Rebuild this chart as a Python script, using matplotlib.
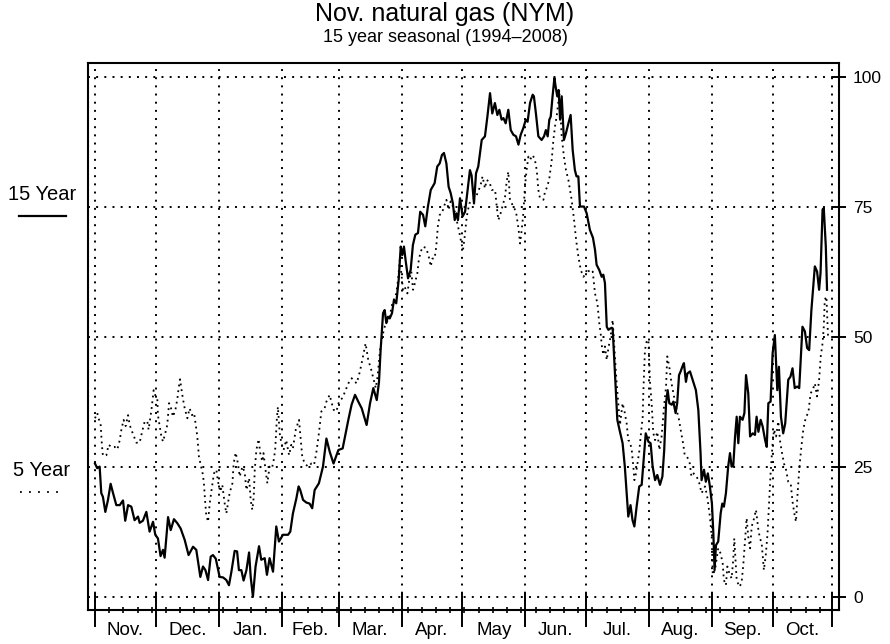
import matplotlib
matplotlib.use("Agg")
import matplotlib.pyplot as plt
from matplotlib.lines import Line2D
import matplotlib.transforms as mtransforms

plt.rcParams['font.family'] = ['Liberation Sans', 'DejaVu Sans']

# month boundaries in calendar days from Nov. 1
month_edges = [0, 30, 61, 92, 120, 151, 181, 212, 242, 273, 304, 334, 363]
month_labels = ['Nov.', 'Dec.', 'Jan.', 'Feb.', 'Mar.', 'Apr.', 'May',
                'Jun.', 'Jul.', 'Aug.', 'Sep.', 'Oct.']
y_ticks = [0, 25, 50, 75, 100]

# 15 year seasonal
days_15 = [0, 1.1, 2.3, 3.1, 3.9, 5.1, 6.4, 7.7, 8.9, 10.5, 12.2, 13.8, 14.9, 16.3, 17.9,
           19.5, 21.2, 22, 23.6, 25.3, 26.9, 28.6, 29.7, 31, 32.3, 33.5, 34.3, 36, 37.3,
           38.9, 40.6, 42.2, 44.2, 46.1, 48.3, 49.9, 51.9, 53.2, 54.4, 55.7, 57, 58.1,
           59.5, 61.4, 63.1, 64.7, 66, 67.2, 68.8, 70, 70.9, 72.1, 73.2, 74.6, 75.9, 76.7,
           77.8, 79.1, 80.8, 81.9, 83.6, 84.7, 86, 87.7, 89.3, 90.6, 92.6, 95.1, 96.2,
           97.5, 99.2, 100.3, 101.1, 102.5, 104.1, 105.7, 107, 108.2, 110.3, 112.3, 114,
           115.6, 117.5, 119.9, 122, 124.8, 126.4, 128.1, 129.7, 131.4, 133.8, 135.5,
           137.1, 138.8, 139.9, 140.7, 141.9, 142.7, 143.5, 144.3, 145.2, 146.3, 147.3,
           148.4, 149.6, 150.6, 151.4, 152.2, 153, 154.2, 155.5, 156.6, 157.8, 159.1,
           160.2, 161.6, 162.7, 164, 165.4, 167.3, 168.6, 169.8, 170.9, 171.9, 173.1,
           174.2, 175.2, 176.3, 177.2, 178, 178.8, 179.8, 181.1, 182.3, 183.4, 184.7,
           185.5, 186.7, 187.7, 188.8, 190.5, 192.1, 193.3, 194.6, 195.7, 197, 198.2,
           199.2, 200.3, 201.2, 202.3, 203.6, 204.8, 206.1, 207.4, 208.6, 209.7, 211,
           212.2, 213.1, 214.3, 215.6, 216.2, 217.2, 218.4, 220, 221.2, 222.1, 223, 223.8,
           224.5, 225.4, 226.3, 226.9, 227.7, 228.4, 229.1, 229.9, 231, 232, 233.2, 234.3,
           235.3, 236.4, 237.2, 238.1, 238.9, 240.9, 242.2, 243.8, 245.3, 246.3, 247.1,
           248.4, 249.6, 250.4, 251.2, 252.1, 252.9, 254, 255, 256.2, 257.3, 258.6, 259.9,
           261, 262.7, 263.8, 264.8, 265.7, 266.8, 268.1, 269.3, 270.4, 271.3, 272.6,
           273.7, 274.7, 275.9, 277, 278.3, 279.5, 280.4, 281.3, 282.1, 282.9, 284.1,
           284.9, 286, 286.8, 287.7, 288.5, 289.3, 290.1, 291.1, 291.8, 293.1, 294.7, 296,
           297.2, 298.3, 298.8, 300, 300.9, 301.9, 302.9, 303.9, 304.6, 305.2, 305.9, 307,
           308.2, 309, 309.8, 310.8, 311.9, 312.8, 313.6, 314.4, 315.3, 316.1, 316.9,
           317.7, 319, 319.9, 320.7, 321.8, 322.7, 324, 325.1, 325.9, 326.8, 327.9, 328.9,
           330.1, 330.9, 331.7, 332.8, 333.8, 334.9, 336.1, 336.9, 337.9, 339, 340, 341.5,
           342.6, 343.6, 344.7, 345.9, 346.9, 348.5, 349.7, 350.8, 351.8, 352.9, 354.6,
           355.7, 356.7, 357.4, 358.4, 359, 360, 360.6]
vals_15 = [25.6, 24.7, 25, 19.9, 19.2, 16.3, 18.6, 21.7, 19.9, 17.6, 17.6, 18.5, 14.6, 17.6,
           17.3, 14.7, 15.4, 14.2, 14.6, 16.3, 12.5, 14.4, 11.9, 11.2, 7.8, 9, 7.5, 15.3,
           12.8, 14.9, 14.1, 13.1, 10.9, 8, 9.6, 9, 3.8, 5.8, 5.1, 3.2, 7.7, 8.0, 7.3, 3.8,
           3.7, 3.2, 2.2, 4.8, 8.8, 8.7, 5.1, 5.1, 3.1, 5.1, 8.5, 3.8, 0, 5.8, 9.7, 7.1,
           7.4, 4.2, 7.4, 4.8, 13.5, 10.6, 11.9, 11.9, 12.5, 16, 18.9, 21.2, 20.5, 18.6,
           18.1, 17.9, 17, 20.5, 21.8, 25, 30.4, 27.9, 25.6, 28.2, 28.5, 34, 36.9, 38.8,
           37.5, 36.2, 33, 37.2, 40.1, 37.8, 41.3, 47.4, 54.5, 55.1, 52.6, 53.8, 53.5, 54.5,
           57.1, 56.4, 60.9, 67.3, 65.7, 67.3, 64.7, 61.2, 62.8, 67.6, 69.6, 69.9, 74, 73.4,
           71.2, 75, 78.2, 79.5, 82.7, 83.3, 84.9, 85.3, 83.3, 78.8, 77.6, 75.6, 72.4, 73.7,
           72.4, 76.6, 73.1, 74, 77.6, 82, 81, 75.6, 81.4, 82.7, 87.8, 88.5, 92.3, 96.8,
           92.9, 94.9, 92.6, 93.6, 91.7, 92, 91, 93.6, 89.7, 88.8, 88.5, 86.9, 88.8, 90.1,
           91.7, 91.3, 94.9, 96.5, 96.2, 92.9, 88.5, 87.8, 88.5, 89.7, 88.5, 91.7, 92.3,
           96.2, 99.7, 98.1, 96.2, 97.4, 91.7, 96.2, 87.8, 89.1, 91, 92.6, 85.9, 82, 80.8,
           80.8, 75, 75, 73.7, 70.5, 69, 66.7, 63.8, 62.8, 61.5, 61.9, 60.3, 51.9, 51.3,
           51.6, 51.6, 42.3, 34, 31.7, 29.5, 25, 15.4, 17.6, 14.7, 13.5, 17.3, 21.2, 21.5,
           26.9, 31.4, 29.8, 29.5, 25, 22.4, 23.4, 21.5, 23.1, 28.2, 37.2, 39.7, 37.2, 36.9,
           37.5, 35.3, 37.2, 42.6, 43.3, 44.2, 44.9, 41.3, 42.9, 43.3, 41.3, 39.7, 35.9,
           27.6, 22.4, 24.4, 22.1, 23.7, 21.2, 17.9, 12.2, 5.1, 9.9, 10.6, 16, 17.9, 17.3,
           19.9, 25, 27.6, 25, 25.1, 30.8, 34.6, 29.5, 34.6, 34, 35.3, 42.6, 39.1, 30.8,
           31.4, 31.1, 34.6, 31.7, 34, 32.7, 30.1, 28.8, 37.2, 37.5, 46.8, 50.3, 39.7, 44.2,
           34.6, 31.4, 33.3, 41.7, 42.3, 43.9, 40.1, 40.4, 40.1, 51.9, 51, 47.8, 47.4, 55.1,
           63.5, 62.5, 59, 62.2, 74.4, 74.7, 67.3, 59]

# 5 year seasonal
days_5 = [0, 1.1, 2, 2.8, 3.4, 3.9, 5.6, 6.7, 8.4, 9.7, 11, 12.2, 13, 14.1, 15.1, 16.3, 17.1,
          18.7, 20.4, 22, 23.2, 24.5, 25.8, 26.4, 27.8, 28.9, 29.9, 30.7, 31, 31.9, 32.7,
          33.5, 34.6, 35.6, 36.5, 37.3, 38.4, 39.6, 40.6, 41.2, 41.9, 42.5, 43.3, 44.2,
          45.5, 46.6, 47.8, 48.8, 49.4, 50.4, 51.2, 52.1, 53.2, 53.7, 54.4, 54.8, 55.7,
          56.5, 57.3, 58.6, 59.8, 60.6, 61.7, 62.7, 63.9, 64.7, 65.5, 66.3, 67.7, 68.3,
          69.3, 70.4, 71.3, 72.6, 73.7, 74.6, 75.9, 76.7, 77.5, 78.2, 78.7, 79.5, 80.6,
          81.4, 82.4, 83, 84, 84.9, 86, 87.2, 88.2, 88.8, 89.6, 90.1, 91, 91.8, 92.9, 94.2,
          95.6, 96.7, 97.5, 98.9, 100.5, 101.2, 102.1, 103.3, 105, 106.6, 107.9, 109,
          110.3, 111.5, 113.1, 114, 115.6, 116.4, 117.6, 118.9, 120.2, 121.9, 124.8, 126.4,
          128.9, 130.5, 132.2, 133.3, 134.6, 135.9, 137.1, 138.3, 139.2, 140.4, 141.5,
          142.8, 143.5, 145.1, 146.3, 147.3, 148.4, 149.3, 150.1, 150.9, 151.7, 152.5,
          153.9, 154.7, 155.8, 156.7, 157.8, 158.8, 159.5, 160.4, 161.6, 163.2, 164.4,
          165.4, 166.2, 167.3, 168.1, 168.9, 169.8, 170.9, 171.9, 173.1, 174.2, 175.2,
          176.3, 177.5, 178.8, 179.7, 180.5, 181.3, 182.1, 183.1, 184.4, 186, 187.7, 188.8,
          190, 190.9, 192.1, 192.9, 194.3, 195.4, 197.1, 197.9, 198.7, 199.8, 201.1, 202,
          202.8, 203.6, 204.4, 206.1, 207.4, 208.6, 209.4, 210.2, 211, 211.8, 212.6, 213.5,
          214.3, 215.6, 216.7, 217.6, 218.4, 219.2, 220.9, 221.7, 222.8, 223.8, 225, 225.8,
          226.6, 227.4, 228.2, 228.7, 229.9, 231, 232, 233.2, 234.8, 236, 237, 238.1,
          239.3, 240.6, 241.4, 242.5, 243.8, 245.2, 246.3, 247.5, 248.4, 249.1, 249.6,
          250.4, 251.2, 252.1, 252.9, 254, 255, 256.8, 258.6, 259.9, 261, 261.9, 262.7,
          263.5, 264.4, 265.2, 265.7, 266.5, 267.2, 268.1, 268.8, 269.8, 270.1, 270.9,
          271.7, 272.6, 273.4, 274.2, 275, 275.9, 277, 278, 279.1, 280.3, 281.3, 281.9,
          282.9, 284, 285.2, 286.5, 287.7, 288.8, 289.7, 290.5, 291.7, 293, 293.8, 294.9,
          296.4, 297.7, 298.8, 300.5, 301.6, 302.9, 303.8, 304.3, 305.4, 307, 308.2, 309.2,
          309.8, 310.8, 311.5, 312.5, 313.6, 314.4, 314.9, 316.1, 317.4, 318.5, 319.4,
          320.2, 321, 321.8, 322.7, 323.5, 324.7, 325.6, 326.8, 327.6, 328.4, 329.5, 330.5,
          331.3, 332.2, 332.8, 333.8, 334.5, 335.5, 336.6, 337.5, 338.3, 339.4, 340.4,
          341.5, 342.7, 343.6, 344.5, 345.3, 346.1, 346.9, 347.8, 348.9, 350.2, 351.4,
          352.5, 353.5, 354.6, 355.7, 356.7, 357.5, 358.4, 359, 359.5, 360.3, 361.1]
vals_5 = [34.3, 35.3, 34, 33, 29.2, 27.1, 27.2, 29.2, 28.7, 28.8, 28.3, 30.1, 32.1, 34, 32.8,
          34.9, 33, 31.3, 29.6, 29.6, 31.7, 33.7, 33.7, 32.1, 35.9, 39.7, 38.5, 38.1, 34.9,
          32.7, 30.8, 29.8, 31.4, 33, 37.2, 36.5, 34.6, 35.9, 38.1, 40.1, 41.8, 40.1, 38.1,
          36.2, 34.3, 36.2, 34.9, 35.3, 33.7, 30.8, 26.9, 25.3, 23.4, 21.5, 17.6, 15.7,
          14.4, 17.9, 20.2, 23.7, 24.4, 22.1, 20.2, 21.5, 17.9, 16, 17.9, 19.9, 21.8, 25.6,
          27.7, 25.6, 23.1, 25, 24, 20.5, 22.8, 18.6, 16.7, 19.2, 24.4, 28.2, 30.3, 27.6,
          26, 27.6, 24.4, 21.8, 25, 24.7, 26.6, 28.5, 34.3, 36.5, 31.4, 29.5, 28.2, 30.1,
          27.2, 29.2, 28.5, 32.1, 34, 30.8, 26.9, 25.6, 25, 25.6, 25.3, 27.6, 31.4, 35.6,
          36.2, 37.5, 38.8, 37.5, 35.9, 35.6, 37.5, 38.2, 41, 42, 41, 43.3, 46.5, 48.7,
          45.5, 43.9, 42, 40.1, 42.3, 47.4, 50, 52, 52.6, 53.8, 56.1, 57.1, 58.3, 60.9,
          64.7, 62.2, 59, 59.6, 58.3, 60.6, 62.5, 59, 60.6, 62.2, 64.7, 66.3, 67.3, 67,
          65.4, 63.5, 65, 65, 67.3, 71.2, 73.4, 73.7, 75, 76.3, 74.4, 76, 75, 73.7, 71.2,
          69.6, 67.9, 66.7, 69.2, 73, 75.6, 76.3, 76.9, 77.9, 79.2, 80.8, 78.5, 80.1, 79.8,
          78.2, 78.2, 75, 72.4, 73.7, 75.6, 76.9, 79.8, 81.7, 76.3, 75, 74, 70.8, 67.9,
          70.5, 73.7, 78.8, 82, 84.6, 84, 84.9, 84, 82, 78.2, 76.6, 76.3, 77.9, 78.8, 80.4,
          84, 87.8, 90.4, 92.3, 94.9, 97.4, 88.5, 84.6, 82, 80.1, 76.3, 72.4, 68.6, 65.4,
          62.8, 61.5, 61.9, 63.1, 62.2, 62.5, 58.3, 56.4, 52.6, 50.6, 48.4, 46.5, 48.1,
          45.5, 47.8, 50, 53.2, 42, 33, 37.2, 35.3, 33.3, 30.1, 29.8, 28.2, 25, 22.4, 23.7,
          25.6, 27.9, 30.8, 34.6, 39.1, 47.4, 49, 49.4, 41.3, 37.2, 31.5, 30.1, 31.7, 28.2,
          30.8, 36.5, 40.4, 46.2, 44.2, 41, 38.5, 35.9, 34, 31.4, 29.5, 27.2, 26.9, 25.6,
          23.1, 23.7, 23.1, 21.8, 19.9, 21.2, 19.2, 15.4, 11.5, 4.2, 5.1, 9.3, 8.3, 6.4,
          3.2, 2.2, 5.8, 4.5, 3.5, 7.1, 11.2, 3.2, 1.9, 2.6, 6.4, 10.9, 15.1, 11.5, 9.3,
          13.5, 15.1, 16.7, 12.8, 11.2, 10.3, 5.1, 8.3, 12.2, 19.2, 23.7, 29.5, 32.1, 30.8,
          33.7, 29.8, 27.9, 25.6, 24.4, 22.1, 21.8, 18.3, 16, 14.4, 19.9, 24.4, 28.2, 32.1,
          34.6, 35.3, 39.1, 39.7, 41, 38.5, 41.7, 46.2, 48.7, 51.9, 57.1, 57.7, 50]

fig = plt.figure(figsize=(8.9, 6.44), dpi=100)
ax = fig.add_axes([0.0992, 0.0528, 0.8435, 0.8494])

grid_style = dict(color='black', lw=1.4, linestyle=(0, (1, 3.2)))
for e in month_edges:
    ax.axvline(e, zorder=1, **grid_style)
for v in y_ticks:
    ax.axhline(v, zorder=1, **grid_style)

ax.plot(days_15, vals_15, color='black', lw=1.6, zorder=3)
ax.plot(days_5, vals_5, color='black', lw=1.3, linestyle=(0, (1, 2.2)), zorder=2)

ax.set_xlim(-3.3, 366.5)
ax.set_ylim(-2.56, 102.6)

for s in ax.spines.values():
    s.set_linewidth(1.5)

ax.set_xticks(month_edges)
ax.set_xticklabels([])
ax.set_xticks(range(7, 363, 7), minor=True)
ax.tick_params(axis='x', which='major', direction='inout', length=24, width=1.4)
ax.tick_params(axis='x', which='minor', direction='inout', length=5, width=1.2)

ax.yaxis.tick_right()
ax.set_yticks(y_ticks)
ax.set_yticklabels([str(v) for v in y_ticks], fontsize=12.5)
ax.tick_params(axis='y', direction='inout', length=10, width=1.4, pad=5)

trans = mtransforms.blended_transform_factory(ax.transData, ax.transAxes)
for i, lab in enumerate(month_labels):
    mid = (month_edges[i] + month_edges[i + 1]) / 2
    ax.annotate(lab, xy=(mid, 0), xycoords=trans, xytext=(0, -15),
                textcoords='offset points', ha='center', va='center', fontsize=13.5)

fig.text(0.5, 1 - 14 / 644, 'Nov. natural gas (NYM)', ha='center', va='center', fontsize=18)
fig.text(0.5, 1 - 37 / 644, '15 year seasonal (1994\u20132008)', ha='center', va='center',
         fontsize=13)

# legend at the left margin
fig.text(42 / 890, 1 - 195 / 644, '15 Year', ha='center', va='center', fontsize=14.5)
fig.add_artist(Line2D([19 / 890, 66 / 890], [1 - 216 / 644, 1 - 216 / 644],
                      transform=fig.transFigure, color='black', lw=1.6))
fig.text(42 / 890, 1 - 470 / 644, '5 Year', ha='center', va='center', fontsize=14.5)
fig.add_artist(Line2D([20 / 890, 63 / 890], [1 - 492 / 644, 1 - 492 / 644],
                      transform=fig.transFigure, color='black', lw=1.3,
                      linestyle=(0, (1, 4))))

fig.savefig('out.png', dpi=100)
